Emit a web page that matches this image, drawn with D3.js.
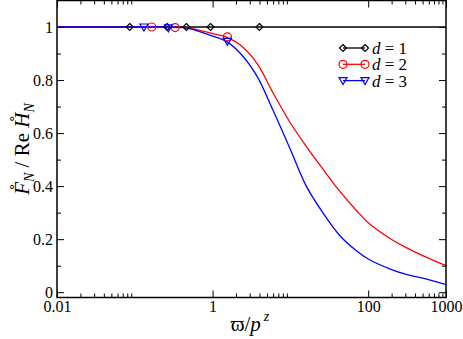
<!DOCTYPE html>
<html>
<head>
<meta charset="utf-8">
<script src="https://cdn.jsdelivr.net/npm/d3@7"></script>
<style>
  body { margin: 0; background: #fff; }
</style>
</head>
<body>
<script>
const svgWidth = 463;
const svgHeight = 339;
const serif = "'Liberation Serif', serif";

// frequency samples (log axis) shared by the curves
const freq = [0.01, 0.1, 0.3, 0.5, 1, 1.5, 2.25, 3.7, 6, 10, 16, 26.5, 43, 70, 100, 200, 300, 500, 1000];
const curveD1 = [1, 1, 1, 1, 1, 1, 1, 1, 1, 1, 1, 1, 1, 1, 1, 1, 1, 1, 1];
const curveD2 = [1, 1, 1, 0.996, 0.975, 0.962, 0.933, 0.864, 0.751, 0.638, 0.550, 0.462, 0.381, 0.309, 0.262, 0.199, 0.170, 0.138, 0.100];
const curveD3 = [1, 1, 1, 0.994, 0.966, 0.946, 0.902, 0.816, 0.685, 0.538, 0.400, 0.297, 0.214, 0.157, 0.125, 0.085, 0.068, 0.053, 0.029];

// symbols
const markX1 = [0.086, 0.26, 0.46, 0.94, 4.0];
const markY1 = [1, 1, 1, 1, 1];
const markX2 = [0.165, 0.33, 1.55];
const markY2 = [1, 0.998, 0.963];
const markX3 = [0.131, 0.27, 1.55];
const markY3 = [1, 0.997, 0.946];

const legendLabels = ["1", "2", "3"];
const colors = ["#000000", "#ff0000", "#0000ff"];
const shapes = ["diamond", "circle", "triangle"];

// tick labels
const xMajor = [0.01, 1, 100, 1000];
const xMinor = [0.02, 0.03, 0.04, 0.05, 0.06, 0.07, 0.08, 0.09, 2, 3, 4, 5, 6, 7, 8, 9, 200, 300, 400, 500, 600, 700, 800, 900];
const yMajor = [0, 0.2, 0.4, 0.6, 0.8, 1];
const yMinor = [0.1, 0.3, 0.5, 0.7, 0.9];

const series = [
  { ys: curveD1, mx: markX1, my: markY1 },
  { ys: curveD2, mx: markX2, my: markY2 },
  { ys: curveD3, mx: markX3, my: markY3 }
];

var svg = d3.select("body").append("svg")
  .attr("width", svgWidth)
  .attr("height", svgHeight);

svg.append("rect").attr("width", svgWidth).attr("height", svgHeight).attr("fill", "#fff");

var x = d3.scaleLog().domain([0.01, 1000]).range([57, 446]);
var y = d3.scaleLinear().domain([-0.02, 1.1]).range([297.5, 0.5]);

// draw a marker
function marker(g, shape, color, cx, cy) {
  if (shape === "circle") {
    g.append("circle").attr("cx", cx).attr("cy", cy).attr("r", 4)
      .attr("fill", "none").attr("stroke", color).attr("stroke-width", 1.2);
  } else if (shape === "diamond") {
    g.append("path")
      .attr("d", `M${cx},${cy - 3.5}L${cx + 3.5},${cy}L${cx},${cy + 3.5}L${cx - 3.5},${cy}Z`)
      .attr("fill", "none").attr("stroke", color).attr("stroke-width", 1.2);
  } else {
    g.append("path")
      .attr("d", `M${cx - 4},${cy - 3}L${cx + 4},${cy - 3}L${cx},${cy + 4}Z`)
      .attr("fill", "none").attr("stroke", color).attr("stroke-width", 1.2);
  }
}

// curves
var line = d3.line()
  .x((d, i) => x(freq[i]))
  .y(d => y(d))
  .curve(d3.curveCatmullRom.alpha(0.5));

var plot = svg.append("g");
series.forEach((s, k) => {
  plot.append("path")
    .attr("d", line(s.ys))
    .attr("fill", "none")
    .attr("stroke", colors[k])
    .attr("stroke-width", 1.3);
});
series.forEach((s, k) => {
  s.mx.forEach((v, i) => marker(plot, shapes[k], colors[k], x(v), y(s.my[i])));
});

// axes, ticks pointing inward on all four sides
function addAxis(axis, tx, ty, showLabels) {
  var g = svg.append("g").attr("transform", `translate(${tx},${ty})`).call(axis);
  g.attr("font-size", 16);
  g.select(".domain").remove();
  g.selectAll("line").attr("stroke", "#000").attr("stroke-width", 1);
  g.selectAll("text").attr("fill", "#000");
  if (!showLabels) g.selectAll("text").remove();
  return g;
}

var xfmt = d => d < 1 ? String(d) : d3.format("d")(d);
addAxis(d3.axisBottom(x).tickValues(xMajor).tickSize(-7).tickPadding(3).tickFormat(xfmt), 0, 297.5, true);
addAxis(d3.axisBottom(x).tickValues(xMinor).tickSize(-4), 0, 297.5, false);
addAxis(d3.axisTop(x).tickValues(xMajor).tickSize(-7), 0, 0.5, false);
addAxis(d3.axisTop(x).tickValues(xMinor).tickSize(-4), 0, 0.5, false);

addAxis(d3.axisLeft(y).tickValues(yMajor).tickSize(-7).tickPadding(4).tickFormat(d => String(d)), 57, 0, true);
addAxis(d3.axisLeft(y).tickValues(yMinor).tickSize(-4), 57, 0, false);
addAxis(d3.axisRight(y).tickValues(yMajor).tickSize(-7), 446, 0, false);
addAxis(d3.axisRight(y).tickValues(yMinor).tickSize(-4), 446, 0, false);

// frame
svg.append("rect")
  .attr("x", 57).attr("y", 0.5)
  .attr("width", 389).attr("height", 297)
  .attr("fill", "none").attr("stroke", "#000").attr("stroke-width", 1.5);

// legend
var legend = svg.append("g");
legendLabels.forEach((lab, k) => {
  var ly = 48 + k * 16.3;
  legend.append("line")
    .attr("x1", 343).attr("x2", 365).attr("y1", ly).attr("y2", ly)
    .attr("stroke", colors[k]).attr("stroke-width", 1.3);
  marker(legend, shapes[k], colors[k], 343, ly);
  marker(legend, shapes[k], colors[k], 365, ly);
  var t = legend.append("text").attr("x", 372).attr("y", ly + 6).attr("font-size", 17);
  t.append("tspan").attr("font-style", "italic").text("d");
  t.append("tspan").text(" = " + lab);
});

// x title
var xt = svg.append("text").attr("x", 250).attr("y", 331)
  .attr("text-anchor", "middle").attr("font-size", 21);
xt.append("tspan").text("\u03D6/");
xt.append("tspan").attr("font-style", "italic").text("p");
xt.append("tspan").attr("font-style", "italic").attr("font-size", 14).attr("dy", -10).attr("dx", 3).text("z");

// y title
var yt = svg.append("text").attr("transform", "translate(29,149) rotate(-90)")
  .attr("text-anchor", "middle").attr("font-size", 21);
yt.append("tspan").attr("font-style", "italic").text("F\u030A");
yt.append("tspan").attr("font-style", "italic").attr("font-size", 14).attr("dy", 5).text("N");
yt.append("tspan").attr("dy", -5).text(" / Re ");
yt.append("tspan").attr("font-style", "italic").text("H\u030A");
yt.append("tspan").attr("font-style", "italic").attr("font-size", 14).attr("dy", 5).text("N");

// serif face on every text
svg.selectAll("text").style("font-family", serif);
</script>
</body>
</html>
